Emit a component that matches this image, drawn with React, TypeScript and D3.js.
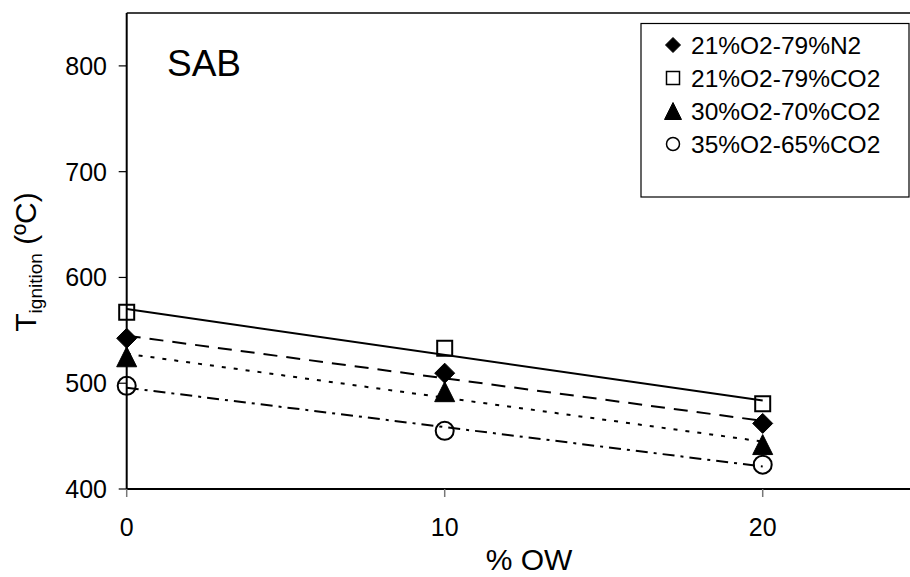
import React from "react";
import * as d3 from "d3";

const xValues = [0, 10, 20];
const seriesN2 = [542.5, 509.5, 462];
const seriesCO2a = [567, 533, 480.5];
const seriesCO2b = [525, 492, 442];
const seriesCO2c = [497.5, 455, 423];
const seriesNames = ["21%O2-79%N2", "21%O2-79%CO2", "30%O2-70%CO2", "35%O2-65%CO2"];
const xTicks = [0, 10, 20];
const yTicks = [400, 500, 600, 700, 800];

const W = 910;
const H = 577;
const FONT = "'Liberation Sans', Arial, sans-serif";

type Marker = "diamond" | "square" | "triangle" | "circle";

function markerPath(kind: Marker, s: number): string {
  const h = s / 2;
  const p = d3.path();
  if (kind === "diamond") {
    p.moveTo(0, -h); p.lineTo(h, 0); p.lineTo(0, h); p.lineTo(-h, 0); p.closePath();
  } else if (kind === "square") {
    p.rect(-h, -h, s, s);
  } else if (kind === "triangle") {
    p.moveTo(0, -h); p.lineTo(h, h); p.lineTo(-h, h); p.closePath();
  } else {
    p.arc(0, 0, h, 0, Math.PI * 2);
  }
  return p.toString();
}

function regression(xs: number[], ys: number[]) {
  const mx = d3.mean(xs)!;
  const my = d3.mean(ys)!;
  let num = 0, den = 0;
  xs.forEach((x, i) => { num += (x - mx) * (ys[i] - my); den += (x - mx) ** 2; });
  const b = num / den;
  const a = my - b * mx;
  return (x: number) => a + b * x;
}

const series = [
  { name: seriesNames[0], values: seriesN2, marker: "diamond" as Marker, fill: "#000", size: 20, legendSize: 15, dash: "14,9" },
  { name: seriesNames[1], values: seriesCO2a, marker: "square" as Marker, fill: "#fff", size: 15, legendSize: 13, dash: "none" },
  { name: seriesNames[2], values: seriesCO2b, marker: "triangle" as Marker, fill: "#000", size: 20, legendSize: 17, dash: "4,8" },
  { name: seriesNames[3], values: seriesCO2c, marker: "circle" as Marker, fill: "#fff", size: 18, legendSize: 13, dash: "12,6,3,6" },
];

export default function App() {
  const x = d3.scaleLinear().domain([0, 25]).range([126.7, 921.7]);
  const y = d3.scaleLinear().domain([400, 850]).range([489, 13]);
  const line = d3.line<[number, number]>().x((d) => x(d[0])).y((d) => y(d[1]));
  const xMin = d3.min(xValues)!;
  const xMax = d3.max(xValues)!;

  return (
    <svg
      width={W}
      height={H}
      style={{ position: "absolute", left: 0, top: 0, background: "#fff" }}
      fontFamily={FONT}
    >
      <rect x={0} y={0} width={W} height={H} fill="#fff" />
      {/* markers */}
      {series.map((s) =>
        s.values.map((v, i) => (
          <path
            key={s.name + i}
            d={markerPath(s.marker, s.size)}
            transform={`translate(${x(xValues[i])},${y(v)})`}
            fill={s.fill}
            stroke="#000"
            strokeWidth={s.fill === "#000" ? 1 : 2}
          />
        ))
      )}
      {/* trendlines */}
      {series.map((s) => {
        const f = regression(xValues, s.values);
        return (
          <path
            key={"t" + s.name}
            d={line([[xMin, f(xMin)], [xMax, f(xMax)]])!}
            fill="none"
            stroke="#000"
            strokeWidth={2}
            strokeDasharray={s.dash}
          />
        );
      })}
      {/* frame */}
      <line x1={x(0)} x2={W} y1={y(850)} y2={y(850)} stroke="#000" strokeWidth={1.5} />
      <line x1={x(0)} x2={x(0)} y1={y(850)} y2={y(400)} stroke="#000" strokeWidth={2} />
      <line x1={x(0)} x2={W} y1={y(400)} y2={y(400)} stroke="#000" strokeWidth={2} />
      {/* y ticks */}
      {yTicks.map((t) => (
        <g key={"y" + t}>
          <line x1={x(0) - 8} x2={x(0)} y1={y(t)} y2={y(t)} stroke="#000" strokeWidth={1.2} />
          <text x={107} y={y(t)} dy="0.36em" textAnchor="end" fontSize={25} fill="#000">
            {t}
          </text>
        </g>
      ))}
      {/* x ticks */}
      {xTicks.map((t) => (
        <g key={"x" + t}>
          <line x1={x(t)} x2={x(t)} y1={y(400)} y2={y(400) + 8} stroke="#777" strokeWidth={1.5} />
          <text x={x(t)} y={y(400) + 38} dy="0.36em" textAnchor="middle" fontSize={25} fill="#000">
            {t}
          </text>
        </g>
      ))}
      {/* axis titles */}
      <text x={529} y={570} textAnchor="middle" fontSize={30} fill="#000">% OW</text>
      <text transform="translate(36,262) rotate(-90)" textAnchor="middle" fill="#000">
        <tspan fontSize={30}>T</tspan>
        <tspan fontSize={19} dy={6}>ignition</tspan>
        <tspan fontSize={30} dy={-6}> (ºC)</tspan>
      </text>
      {/* SAB label */}
      <text x={167} y={76} fontSize={37} fill="#000">SAB</text>
      {/* legend */}
      <rect x={641} y={23.5} width={268} height={173.5} fill="#fff" stroke="#000" strokeWidth={1.2} />
      {series.map((s, i) => (
        <g key={"l" + s.name} transform={`translate(0,${45 + i * 33})`}>
          <path
            d={markerPath(s.marker, s.legendSize)}
            transform="translate(673,0)"
            fill={s.fill}
            stroke="#000"
            strokeWidth={s.fill === "#000" ? 1 : 1.5}
          />
          <text x={691} y={0} dy="0.36em" fontSize={24.5} fill="#000">
            {s.name}
          </text>
        </g>
      ))}
    </svg>
  );
}
